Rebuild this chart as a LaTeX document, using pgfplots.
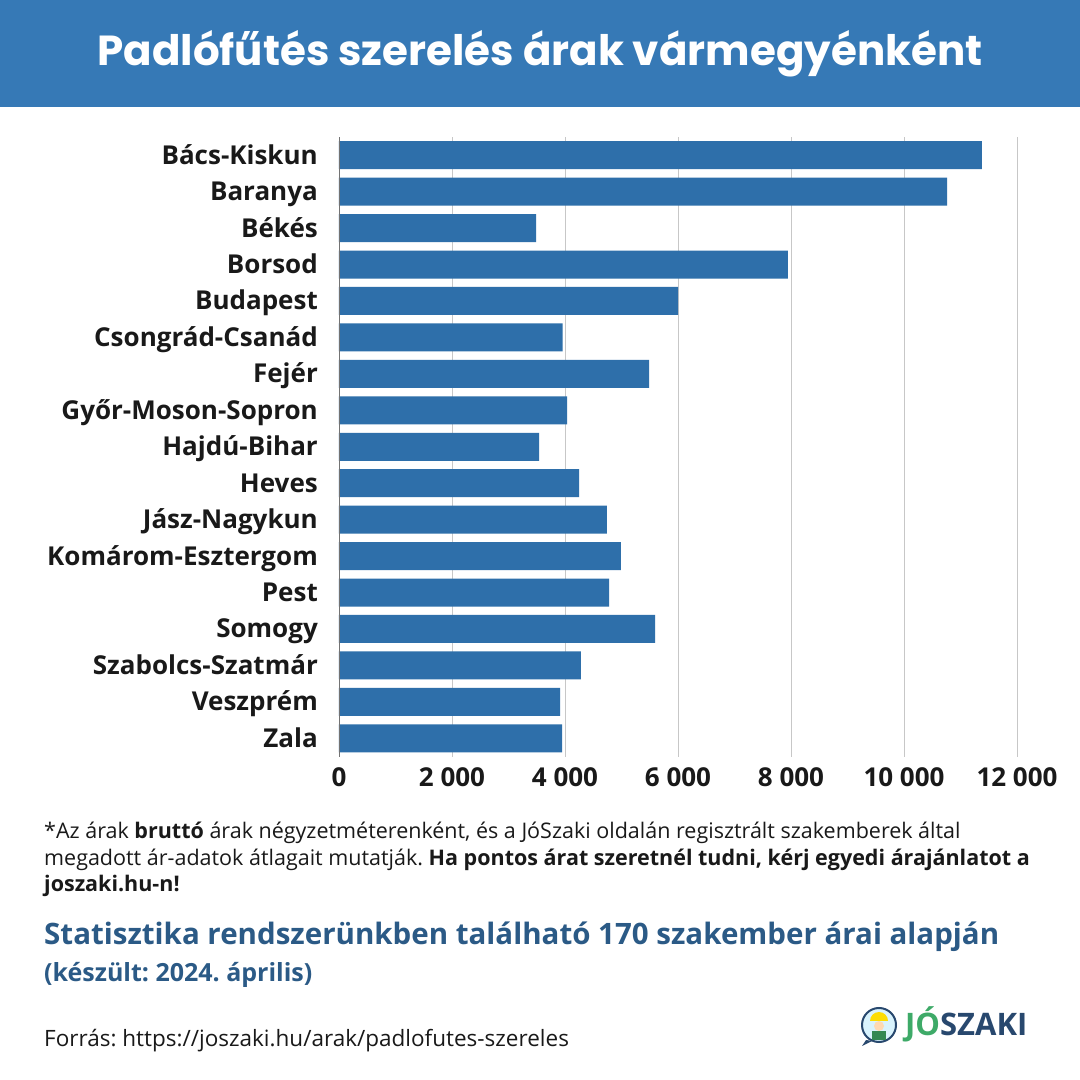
\documentclass[border=0pt]{standalone}
\usepackage{pgfplots}
\pgfplotsset{compat=1.18}
\usepackage{fontspec}
\setmainfont{Open Sans}
\newfontfamily\titlefont{Poppins}
\frenchspacing

\definecolor{band}{RGB}{54,121,182}
\definecolor{barblue}{RGB}{46,111,170}
\definecolor{statblue}{RGB}{43,90,134}
\definecolor{jogreen}{RGB}{62,170,104}
\definecolor{jonavy}{RGB}{40,72,110}
\definecolor{txt}{RGB}{25,25,25}

\begin{document}
\begin{tikzpicture}[x=1pt,y=1pt]
% page and header band
\fill[white] (0,0) rectangle (1080,1080);
\fill[band] (0,973) rectangle (1080,1080);
\node[text=white,font=\titlefont\bfseries\fontsize{42}{50}\selectfont]
  at (540,1026) {Padlófűtés szerelés árak vármegyénként};

\begin{axis}[
  at={(339pt,323.5pt)}, anchor=south west,
  scale only axis, width=678pt, height=619.5pt,
  xbar, bar width=28pt,
  xmin=0, xmax=12000,
  ymin=-0.5, ymax=16.5, y dir=reverse,
  axis line style={draw=none},
  major tick length=0pt,
  scaled x ticks=false,
  xmajorgrids, grid style={black!22, line width=0.8pt},
  xtick={0,2000,4000,6000,8000,10000,12000},
  xticklabels={0,2 000,4 000,6 000,8 000,10 000,12 000},
  ytick={0,...,16},
  yticklabels={Bács-Kiskun,Baranya,Békés,Borsod,Budapest,Csongrád-Csanád,Fejér,
    Győr-Moson-Sopron,Hajdú-Bihar,Heves,Jász-Nagykun,Komárom-Esztergom,Pest,
    Somogy,Szabolcs-Szatmár,Veszprém,Zala},
  xticklabel style={font=\bfseries\fontsize{26}{30}\selectfont, text=txt,
    inner sep=0pt, anchor=center, yshift=-21pt},
  yticklabel style={font=\bfseries\fontsize{26}{30}\selectfont, text=txt,
    inner sep=0pt, anchor=base east, xshift=-21pt, yshift=-9pt},
]
\addplot[draw=none, fill=barblue] coordinates {
  (11380,0) (10762,1) (3488,2) (7945,3) (6000,4) (3958,5) (5488,6)
  (4038,7) (3540,8) (4248,9) (4743,10) (4991,11) (4779,12) (5593,13)
  (4283,14) (3912,15) (3947,16)};
\draw[black!55, line width=0.8pt] (axis cs:0,-0.5) -- (axis cs:0,16.5);
\end{axis}

% footnote
\node[anchor=north west, align=left, text=txt, inner sep=0pt,
  font=\fontsize{21.5}{26.5}\selectfont] at (44,1080-822)
  {*Az árak \textbf{bruttó} árak négyzetméterenként, és a JóSzaki oldalán regisztrált szakemberek által\\
   megadott ár-adatok átlagait mutatják. \textbf{Ha pontos árat szeretnél tudni, kérj egyedi árajánlatot a}\\
   \textbf{joszaki.hu-n!}};

\node[anchor=base west, inner sep=0pt, text=statblue,
  font=\bfseries\fontsize{29.5}{34}\selectfont] at (44,1080-945)
  {Statisztika rendszerünkben található 170 szakember árai alapján};
\node[anchor=base west, inner sep=0pt, text=statblue,
  font=\bfseries\fontsize{25}{30}\selectfont] at (44,1080-982)
  {(készült: 2024. április)};

\node[anchor=base west, inner sep=0pt, text=txt,
  font=\fontsize{22.5}{26}\selectfont] at (44,1080-1047)
  {Forrás: https://joszaki.hu/arak/padlofutes-szereles};

% logo
\fill[jonavy] (866,1080-1040) -- (862,1080-1046) -- (872,1080-1041) -- cycle;
\draw[jonavy, line width=2pt, fill=cyan!15] (879,1080-1025) circle (17);
\fill[yellow!80!orange] (870,1080-1021) arc (180:0:9) -- cycle;
\fill[jogreen!80!black] (872,1080-1040) rectangle (886,1080-1031);
\fill[orange!30] (879,1080-1026) circle (5);
\node[anchor=base west, inner sep=0pt,
  font=\bfseries\fontsize{31}{34}\selectfont] at (905,1080-1036)
  {\textcolor{jogreen}{JÓ}\textcolor{jonavy}{SZAKI}};
\end{tikzpicture}
\end{document}
